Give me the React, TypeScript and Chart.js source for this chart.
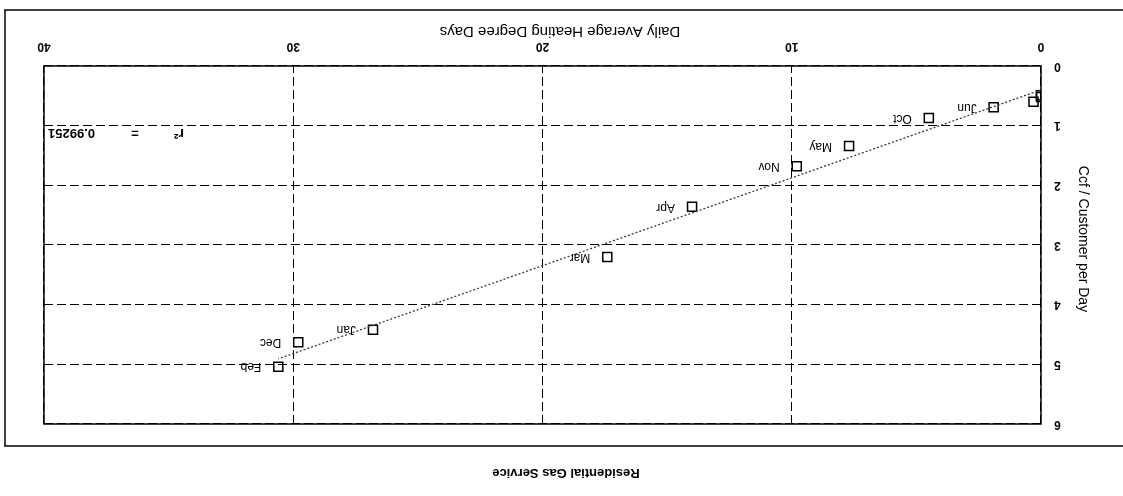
import React, { useEffect, useRef } from 'react';
import { Chart, registerables } from 'chart.js';

Chart.register(...registerables);

// Monthly residential gas use against heating degree days
const months = ['Jan', 'Feb', 'Mar', 'Apr', 'May', 'Jun', 'Jul', 'Aug', 'Sep', 'Oct', 'Nov', 'Dec'];
const heatingDegreeDays = [26.8, 30.6, 17.4, 14.0, 7.7, 1.9, 0.0, 0.0, 0.3, 4.5, 9.8, 29.8];
const ccfPerCustomerDay = [4.42, 5.04, 3.2, 2.36, 1.34, 0.69, 0.52, 0.49, 0.6, 0.87, 1.68, 4.63];
// summer months sit on top of each other near the origin, so their names are left off
const monthNameShown = [true, true, true, true, true, true, false, false, false, true, true, true];

const xTicks = [0, 10, 20, 30, 40];
const yTicks = [0, 1, 2, 3, 4, 5, 6];
const rSquared = 0.99251;

const chartTitle = 'Residential Gas Service';
const xTitle = 'Daily Average Heating Degree Days';
const yTitle = 'Ccf / Customer per Day';

const FONT = "'Liberation Sans', Arial, sans-serif";
const W = 1123;
const H = 496;

// ordinary least-squares line through the monthly points
function linearFit(xs: number[], ys: number[]) {
  const n = xs.length;
  const mx = xs.reduce((a, b) => a + b, 0) / n;
  const my = ys.reduce((a, b) => a + b, 0) / n;
  let sxy = 0;
  let sxx = 0;
  for (let i = 0; i < n; i++) {
    sxy += (xs[i] - mx) * (ys[i] - my);
    sxx += (xs[i] - mx) * (xs[i] - mx);
  }
  const slope = sxy / sxx;
  return { slope, intercept: my - slope * mx };
}

const decorations = {
  id: 'decorations',
  beforeDraw(chart: any) {
    const { ctx, chartArea } = chart;
    ctx.save();
    ctx.fillStyle = '#fff';
    ctx.fillRect(0, 0, W, H);
    // outer frame
    ctx.strokeStyle = '#000';
    ctx.lineWidth = 1.5;
    ctx.strokeRect(-2, 50, 1120, 436);
    // chart title
    ctx.fillStyle = '#000';
    ctx.textAlign = 'center';
    ctx.textBaseline = 'middle';
    ctx.font = `bold 13px ${FONT}`;
    ctx.fillText(chartTitle, 557, 23);
    // axis titles
    ctx.font = `15px ${FONT}`;
    ctx.fillText(xTitle, 563, chartArea.bottom + 35);
    ctx.save();
    ctx.translate(40, (chartArea.top + chartArea.bottom) / 2 + 6);
    ctx.rotate(-Math.PI / 2);
    ctx.font = `14px ${FONT}`;
    ctx.fillText(yTitle, 0, 0);
    ctx.restore();
    ctx.restore();
  },
  afterDatasetsDraw(chart: any) {
    const { ctx, chartArea, scales } = chart;
    ctx.save();
    // plot frame
    ctx.strokeStyle = '#000';
    ctx.lineWidth = 1.5;
    ctx.strokeRect(chartArea.left, chartArea.top, chartArea.right - chartArea.left, chartArea.bottom - chartArea.top);
    // month names beside their points
    ctx.fillStyle = '#000';
    ctx.font = `12px ${FONT}`;
    ctx.textAlign = 'left';
    ctx.textBaseline = 'middle';
    months.forEach((m, i) => {
      if (!monthNameShown[i]) return;
      const px = scales.x.getPixelForValue(heatingDegreeDays[i]);
      const py = scales.y.getPixelForValue(ccfPerCustomerDay[i]);
      ctx.fillText(m, px + 17, py);
    });
    // goodness of fit
    const ry = chartArea.bottom - 67;
    ctx.font = `bold 13px ${FONT}`;
    ctx.textAlign = 'right';
    ctx.fillText(rSquared.toFixed(5), chartArea.right - 4, ry);
    ctx.textAlign = 'center';
    ctx.fillText('=', chartArea.right - 91, ry);
    ctx.font = `bold 14px ${FONT}`;
    ctx.fillText('r²', chartArea.right - 135, ry);
    ctx.restore();
  },
};

export default function App() {
  const canvasRef = useRef<HTMLCanvasElement | null>(null);

  useEffect(() => {
    const canvas = canvasRef.current;
    if (!canvas) return;
    const fit = linearFit(heatingDegreeDays, ccfPerCustomerDay);
    const x0 = Math.min(...heatingDegreeDays);
    const x1 = Math.max(...heatingDegreeDays);
    const trend = [
      { x: x0, y: fit.intercept + fit.slope * x0 },
      { x: x1, y: fit.intercept + fit.slope * x1 },
    ];
    const points = heatingDegreeDays.map((x, i) => ({ x, y: ccfPerCustomerDay[i] }));

    const tickFont = { family: FONT, size: 12, weight: 'bold' as const };
    const chart = new Chart(canvas, {
      type: 'scatter',
      data: {
        datasets: [
          {
            label: 'Trend',
            data: trend,
            showLine: true,
            borderColor: '#3a3a3a',
            borderWidth: 1.3,
            borderDash: [2, 2],
            pointRadius: 0,
            fill: false,
          },
          {
            label: 'Months',
            data: points,
            pointStyle: 'rect',
            pointRadius: 6.4,
            pointBorderWidth: 1.5,
            pointBorderColor: '#000',
            pointBackgroundColor: 'rgba(255,255,255,0)',
            showLine: false,
          },
        ],
      },
      options: {
        responsive: false,
        animation: false,
        events: [],
        layout: { padding: { left: 0, right: 44, top: 72, bottom: 0 } },
        plugins: { legend: { display: false }, title: { display: false }, tooltip: { enabled: false } },
        scales: {
          x: {
            type: 'linear',
            min: xTicks[0],
            max: xTicks[xTicks.length - 1],
            afterBuildTicks: (s: any) => {
              s.ticks = xTicks.map((v) => ({ value: v }));
            },
            afterFit: (s: any) => {
              s.height = 66;
            },
            ticks: { font: tickFont, color: '#000', padding: 12, maxRotation: 0 },
            grid: { color: '#000', lineWidth: 1, drawTicks: false },
            border: { display: false, dash: [9, 4] },
          },
          y: {
            type: 'linear',
            min: yTicks[0],
            max: yTicks[yTicks.length - 1],
            afterBuildTicks: (s: any) => {
              s.ticks = yTicks.map((v) => ({ value: v }));
            },
            afterFit: (s: any) => {
              s.width = 82;
            },
            ticks: { font: tickFont, color: '#000', padding: 13 },
            grid: { color: '#000', lineWidth: 1, drawTicks: false },
            border: { display: false, dash: [9, 4] },
          },
        },
      },
      plugins: [decorations],
    });
    return () => chart.destroy();
  }, []);

  return (
    <div
      style={{
        position: 'fixed',
        left: 0,
        top: 0,
        width: W,
        height: H,
        background: '#fff',
        transform: 'rotate(180deg)',
      }}
    >
      <canvas ref={canvasRef} width={W} height={H} style={{ display: 'block' }} />
    </div>
  );
}
